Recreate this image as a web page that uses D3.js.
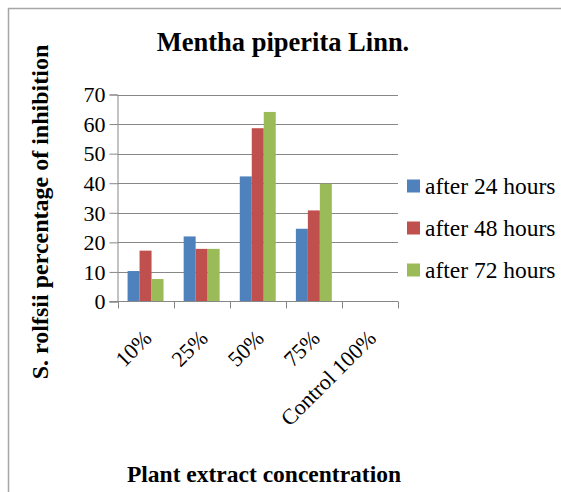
<!DOCTYPE html>
<html>
<head>
<meta charset="utf-8">
<script src="https://cdn.jsdelivr.net/npm/d3@7"></script>
<style>
  body { margin: 0; background: #fff; }
  svg text { font-family: "Liberation Serif", "Times New Roman", serif; }
</style>
</head>
<body>
<div id="chart"></div>
<script>
// data
const categories = ["10%", "25%", "50%", "75%", "Control 100%"];
const seriesNames = ["after 24 hours", "after 48 hours", "after 72 hours"];
const after24 = [10.3, 22.0, 42.3, 24.6, 0];
const after48 = [17.2, 17.8, 58.6, 30.8, 0];
const after72 = [7.6, 17.8, 64.1, 39.8, 0];
const yTicks = [0, 10, 20, 30, 40, 50, 60, 70];
const colors = ["#4f81bd", "#c0504d", "#9bbb59"];

const width = 561, height = 492;
const plot = {left: 117.5, right: 398, top: 94.5, bottom: 301.5};
const serif = "'Liberation Serif', 'Times New Roman', serif";

const svg = d3.select("#chart").append("svg")
    .attr("width", width)
    .attr("height", height);

// outer frame (only top and left are visible)
svg.append("path")
    .attr("d", "M8.5,492 V8.5 H561")
    .attr("fill", "none")
    .attr("stroke", "#a6a6a6")
    .attr("stroke-width", 1.5);

const series = seriesNames.map(function(name, i) {
    return {name: name, values: [after24, after48, after72][i]};
});

const x0 = d3.scaleBand()
    .domain(categories)
    .range([plot.left, plot.right]);

const x1 = d3.scaleBand()
    .domain(seriesNames)
    .range([0, x0.bandwidth()])
    .paddingOuter(0.84);

const y = d3.scaleLinear()
    .domain([0, 70])
    .range([plot.bottom, plot.top]);

// gridlines
svg.append("g")
    .selectAll("line")
    .data(yTicks.slice(1))
    .enter().append("line")
    .attr("x1", plot.left)
    .attr("x2", plot.right)
    .attr("y1", function(d) { return Math.round(y(d)) + 0.5; })
    .attr("y2", function(d) { return Math.round(y(d)) + 0.5; })
    .attr("stroke", "#878787")
    .attr("stroke-width", 1);

// bars
const groups = svg.append("g")
    .selectAll("g")
    .data(categories)
    .enter().append("g")
    .attr("transform", function(d) { return "translate(" + x0(d) + ",0)"; });

groups.selectAll("rect")
    .data(function(d, ci) {
        return series.map(function(s, si) { return {name: s.name, value: s.values[ci], si: si}; });
    })
    .enter().append("rect")
    .attr("x", function(d) { return x1(d.name); })
    .attr("width", x1.bandwidth())
    .attr("y", function(d) { return y(d.value); })
    .attr("height", function(d) { return y(0) - y(d.value); })
    .attr("fill", function(d) { return colors[d.si]; });

// y axis
const yAxis = svg.append("g")
    .attr("transform", "translate(" + plot.left + ",0)")
    .call(d3.axisLeft(y).tickValues(yTicks).tickSize(8).tickPadding(4))
    .attr("font-family", serif)
    .attr("font-size", 22);
yAxis.select(".domain").attr("stroke", "#878787");
yAxis.selectAll(".tick line").attr("stroke", "#878787");
yAxis.selectAll(".tick text")
    .attr("fill", "#000")
    .attr("dy", "0.33em");

// x axis line and tick marks at category boundaries
svg.append("line")
    .attr("x1", plot.left - 8)
    .attr("x2", plot.right)
    .attr("y1", plot.bottom)
    .attr("y2", plot.bottom)
    .attr("stroke", "#878787");

const bounds = categories.map(function(c) { return x0(c); }).concat([plot.right]);
svg.append("g")
    .selectAll("line")
    .data(bounds)
    .enter().append("line")
    .attr("x1", function(d) { return Math.round(d) + 0.5; })
    .attr("x2", function(d) { return Math.round(d) + 0.5; })
    .attr("y1", plot.bottom)
    .attr("y2", plot.bottom + 7)
    .attr("stroke", "#878787");

// rotated category labels
svg.append("g")
    .selectAll("text")
    .data(categories)
    .enter().append("text")
    .attr("transform", function(d) {
        return "translate(" + (x0(d) + x0.bandwidth() / 2 + 2) + "," + 334 + ") rotate(-45)";
    })
    .attr("text-anchor", "end")
    .attr("dy", "0.35em")
    .style("font-size", "22px")
    .text(function(d) { return d; });

// title
svg.append("text")
    .attr("x", 283)
    .attr("y", 51)
    .attr("text-anchor", "middle")
    .style("font-size", "26.5px")
    .style("font-weight", "bold")
    .text("Mentha piperita Linn.");

// axis titles
svg.append("text")
    .attr("transform", "translate(48,212) rotate(-90)")
    .attr("text-anchor", "middle")
    .style("font-size", "24px")
    .style("font-weight", "bold")
    .text("S. rolfsii percentage of inhibition");

svg.append("text")
    .attr("x", 264)
    .attr("y", 482)
    .attr("text-anchor", "middle")
    .style("font-size", "23.5px")
    .style("font-weight", "bold")
    .text("Plant extract concentration");

// legend
const legend = svg.append("g")
    .selectAll("g")
    .data(seriesNames)
    .enter().append("g")
    .attr("transform", function(d, i) { return "translate(407," + (186 + i * 42) + ")"; });

legend.append("rect")
    .attr("x", 0)
    .attr("y", -6.5)
    .attr("width", 13)
    .attr("height", 13)
    .attr("fill", function(d, i) { return colors[i]; });

legend.append("text")
    .attr("x", 18)
    .attr("dy", "0.33em")
    .style("font-size", "23.5px")
    .text(function(d) { return d; });
</script>
</body>
</html>
